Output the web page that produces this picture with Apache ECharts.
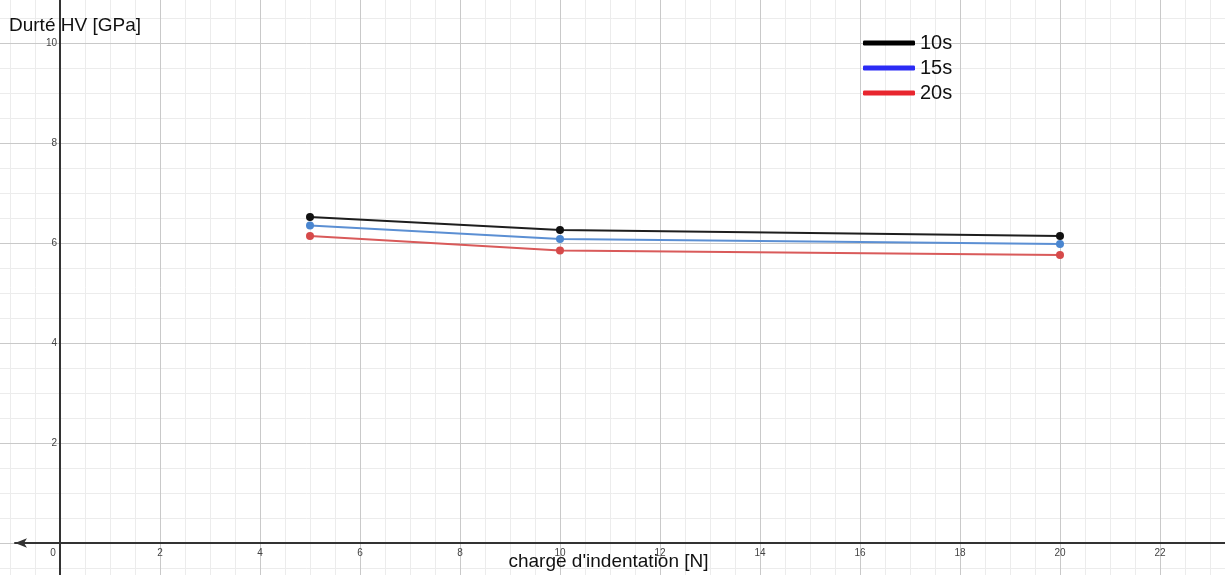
<!DOCTYPE html>
<html>
<head>
<meta charset="utf-8">
<script src="https://cdn.jsdelivr.net/npm/echarts@6/dist/echarts.min.js"></script>
<style>html,body{margin:0;padding:0;background:#fff}#c{width:1225px;height:575px}</style>
</head>
<body>
<div id="c"></div>
<script>
const loads = [5, 10, 20];
const hv10 = [6.52, 6.26, 6.14];
const hv15 = [6.35, 6.08, 5.98];
const hv20 = [6.14, 5.85, 5.76];
const seriesNames = ['10s', '15s', '20s'];
const xTickLabels = [0, 2, 4, 6, 8, 10, 12, 14, 16, 18, 20, 22];
const yTickLabels = [2, 4, 6, 8, 10];
const xTitle = "charge d'indentation [N]";
const yTitle = 'Durté HV [GPa]';

const lineColors = ['#1e1e1e', '#5b8fd3', '#d95a5a'];
const markColors = ['#111111', '#4a86d0', '#d64a4a'];
const legendColors = ['#000000', '#2b2bf5', '#e8262e'];

const X_MIN = -1.2, X_MAX = 23.3, Y_MIN = -0.64, Y_MAX = 10.86;
function steps(a, b, s) { const r = []; for (let v = a; v <= b + 1e-9; v += s) r.push(Math.round(v * 100) / 100); return r; }
const xMajor = steps(0, 22, 2);
const xMinor = steps(-1, 23, 0.5);
const yMajor = steps(0, 10, 2);
const yMinor = steps(-0.5, 10.5, 0.5);

const chart = echarts.init(document.getElementById('c'), null, {renderer: 'canvas'});
const font = 'Liberation Sans, Arial, sans-serif';

function pts(ys) { return loads.map((x, i) => [x, ys[i]]); }
const allY = [hv10, hv15, hv20];
const gridBase = {left: 0, right: 0, top: 0, bottom: 0, containLabel: false, outerBoundsMode: 'none'};
const hidden = {axisLine: {show: false}, axisTick: {show: false}, axisLabel: {show: false}};

chart.setOption({
  animation: false,
  backgroundColor: '#fff',
  title: {
    text: yTitle, left: 4, top: 11, z: 20,
    textStyle: {fontFamily: font, fontSize: 19, fontWeight: 'normal', color: '#111'}
  },
  legend: {
    orient: 'vertical', left: 858, top: 28, itemGap: 5, z: 20,
    itemWidth: 52, itemHeight: 5, icon: 'roundRect',
    textStyle: {fontFamily: font, fontSize: 20, color: '#111', lineHeight: 20, padding: [0, 0, 0, 0]},
    data: seriesNames.map((n, i) => ({name: n, itemStyle: {color: legendColors[i]}}))
  },
  grid: [
    Object.assign({}, gridBase),
    Object.assign({}, gridBase, {left: 15})
  ],
  xAxis: [
    {
      type: 'value', gridIndex: 0, min: X_MIN, max: X_MAX, position: 'bottom', offset: -32,
      name: xTitle, nameLocation: 'middle', nameGap: 9, nameMoveOverlap: false,
      nameTextStyle: {fontFamily: font, fontSize: 19, color: '#111', padding: [0, 8, 0, 0]},
      axisLine: {show: false, onZero: false},
      axisTick: {show: false, customValues: xMajor},
      axisLabel: {
        customValues: xTickLabels, showMinLabel: true, showMaxLabel: true,
        fontFamily: font, fontSize: 10, color: '#444', margin: 5,
        formatter: v => v === 0 ? '{z|0}' : String(v),
        rich: {z: {fontFamily: font, fontSize: 10, color: '#444', padding: [0, 14, 0, 0]}}
      },
      splitLine: {show: true, lineStyle: {color: '#c9c9c9', width: 1}},
      z: 3
    },
    Object.assign({
      type: 'value', gridIndex: 0, min: X_MIN, max: X_MAX, position: 'top',
      splitLine: {show: true, lineStyle: {color: '#ececec', width: 1}}, z: 1
    }, hidden, {axisTick: {show: false, customValues: xMinor}}),
    {
      type: 'value', gridIndex: 1, min: 0, max: 1, position: 'bottom', offset: -32,
      axisLine: {show: true, onZero: false, symbol: ['arrow', 'none'], symbolSize: [7, 12],
        lineStyle: {color: '#333', width: 2}},
      axisTick: {show: false}, axisLabel: {show: false}, splitLine: {show: false},
      z: 6
    }
  ],
  yAxis: [
    {
      type: 'value', gridIndex: 0, min: Y_MIN, max: Y_MAX, position: 'left', offset: -60,
      axisLine: {show: true, onZero: false, lineStyle: {color: '#333', width: 2}},
      axisTick: {show: false, customValues: yMajor},
      axisLabel: {
        customValues: yTickLabels,
        fontFamily: font, fontSize: 10, color: '#444', margin: 3
      },
      splitLine: {show: true, lineStyle: {color: '#c9c9c9', width: 1}},
      z: 3
    },
    Object.assign({
      type: 'value', gridIndex: 0, min: Y_MIN, max: Y_MAX, position: 'right',
      splitLine: {show: true, lineStyle: {color: '#ececec', width: 1}}, z: 1
    }, hidden, {axisTick: {show: false, customValues: yMinor}}),
    Object.assign({
      type: 'value', gridIndex: 1, min: 0, max: 1, splitLine: {show: false}
    }, hidden)
  ],
  series: seriesNames.map((n, i) => ({
    name: n, type: 'line', xAxisIndex: 0, yAxisIndex: 0,
    data: pts(allY[i]),
    symbol: 'circle', symbolSize: 8,
    lineStyle: {color: lineColors[i], width: 2},
    itemStyle: {color: markColors[i]},
    z: 5 - i
  }))
});
</script>
</body>
</html>
